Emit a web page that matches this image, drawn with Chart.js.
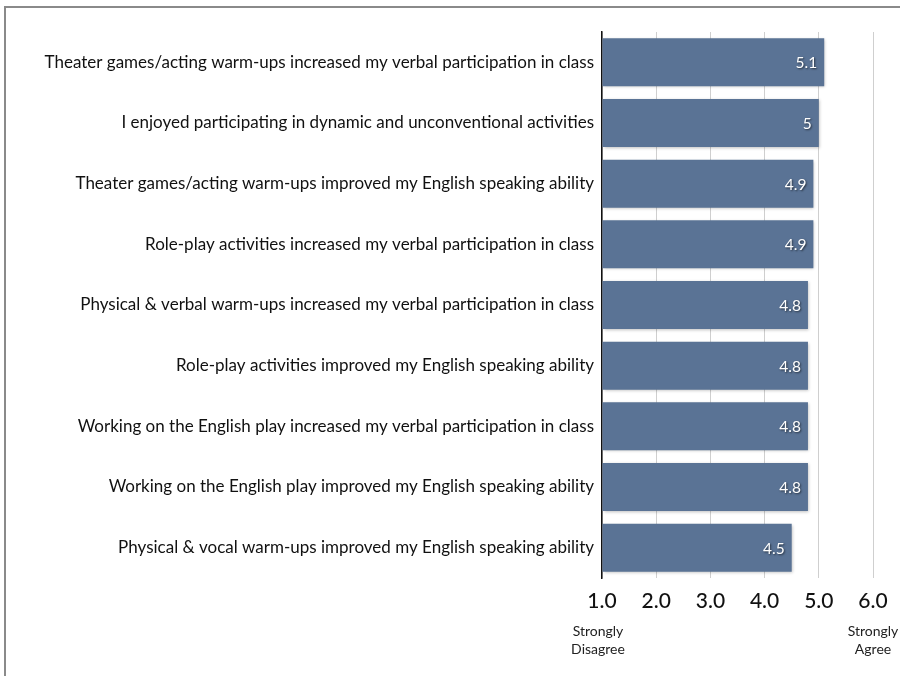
<!DOCTYPE html>
<html>
<head>
<meta charset="utf-8">
<script src="https://cdn.jsdelivr.net/npm/chart.js@4"></script>
<style>
  html, body { margin: 0; padding: 0; background: #fff; }
  #wrap { width: 900px; height: 676px; position: relative; }
</style>
</head>
<body>
<div id="wrap"><canvas id="grafico" width="900" height="676"></canvas></div>
<script>
const statements = [
  "Theater games/acting warm-ups increased my verbal participation in class",
  "I enjoyed participating in dynamic and unconventional activities",
  "Theater games/acting warm-ups improved my English speaking ability",
  "Role-play activities increased my verbal participation in class",
  "Physical & verbal warm-ups increased my verbal participation in class",
  "Role-play activities improved my English speaking ability",
  "Working on the English play increased my verbal participation in class",
  "Working on the English play improved my English speaking ability",
  "Physical & vocal warm-ups improved my English speaking ability",
];
const scores = [5.1, 5, 4.9, 4.9, 4.8, 4.8, 4.8, 4.8, 4.5];
const tickValues = [1, 2, 3, 4, 5, 6];
const endLabels = [
  { value: 1, lines: ["Strongly", "Disagree"] },
  { value: 6, lines: ["Strongly", "Agree"] },
];

const FONT = "Lato, 'Open Sans', sans-serif";

// moldura cinza no canto superior esquerdo
const framePlugin = {
  id: "frame",
  beforeDraw(chart) {
    const ctx = chart.ctx;
    ctx.save();
    ctx.strokeStyle = "#8a8a8a";
    ctx.lineWidth = 2;
    ctx.beginPath();
    ctx.moveTo(5, chart.height);
    ctx.lineTo(5, 7);
    ctx.lineTo(chart.width, 7);
    ctx.stroke();
    ctx.restore();
  },
};

const barShadow = {
  id: "barShadow",
  beforeDatasetsDraw(chart) {
    const ctx = chart.ctx;
    ctx.save();
    ctx.shadowColor = "rgba(0,0,0,0.25)";
    ctx.shadowBlur = 3;
    ctx.shadowOffsetX = 1;
    ctx.shadowOffsetY = 1;
  },
  afterDatasetsDraw(chart) {
    chart.ctx.restore();
  },
};

const valueLabels = {
  id: "valueLabels",
  afterDatasetsDraw(chart) {
    const ctx = chart.ctx;
    const meta = chart.getDatasetMeta(0);
    ctx.save();
    ctx.font = "15.5px " + FONT;
    ctx.fillStyle = "#fff";
    ctx.textAlign = "right";
    ctx.textBaseline = "middle";
    ctx.shadowColor = "rgba(0,0,0,0.6)";
    ctx.shadowBlur = 2;
    ctx.shadowOffsetX = 1;
    ctx.shadowOffsetY = 1;
    meta.data.forEach((bar, i) => {
      ctx.fillText(String(scores[i]), bar.x - 7, bar.y + 1);
    });
    ctx.restore();
  },
};

const axisEnds = {
  id: "axisEnds",
  afterDraw(chart) {
    const ctx = chart.ctx;
    const x = chart.scales.x;
    ctx.save();
    ctx.font = "14px " + FONT;
    ctx.fillStyle = "#222";
    ctx.textAlign = "center";
    ctx.textBaseline = "middle";
    endLabels.forEach((item) => {
      const px = x.getPixelForValue(item.value) - (item.value === 1 ? 4 : 0);
      item.lines.forEach((line, j) => {
        ctx.fillText(line, px, 631 + j * 18);
      });
    });
    ctx.restore();
  },
};

new Chart(document.getElementById("grafico"), {
  type: "bar",
  data: {
    labels: statements,
    datasets: [{
      data: scores,
      base: 1,
      backgroundColor: "#5a7395",
      borderWidth: 0,
      categoryPercentage: 1,
      barPercentage: 0.79,
    }],
  },
  options: {
    indexAxis: "y",
    responsive: false,
    animation: false,
    layout: { padding: { left: 0, right: 27, top: 32, bottom: 0 } },
    plugins: { legend: { display: false }, tooltip: { enabled: false } },
    scales: {
      x: {
        min: 1,
        max: 6,
        afterBuildTicks: (scale) => {
          scale.ticks = tickValues.map((v) => ({ value: v }));
        },
        afterFit: (scale) => { scale.height = 98; },
        grid: { color: "#cfcfcf", lineWidth: 1, drawTicks: false },
        border: { display: false },
        ticks: {
          color: "#111",
          padding: 11,
          font: { family: FONT, size: 21, weight: "500" },
          callback: (value) => Number(value).toFixed(1),
        },
      },
      y: {
        afterFit: (scale) => { scale.width = 602; },
        grid: { display: false, drawTicks: false },
        border: { display: true, color: "#111", width: 1.5 },
        ticks: {
          color: "#111",
          padding: 8,
          font: { family: FONT, size: 17 },
        },
      },
    },
  },
  plugins: [framePlugin, barShadow, valueLabels, axisEnds],
});
</script>
</body>
</html>
